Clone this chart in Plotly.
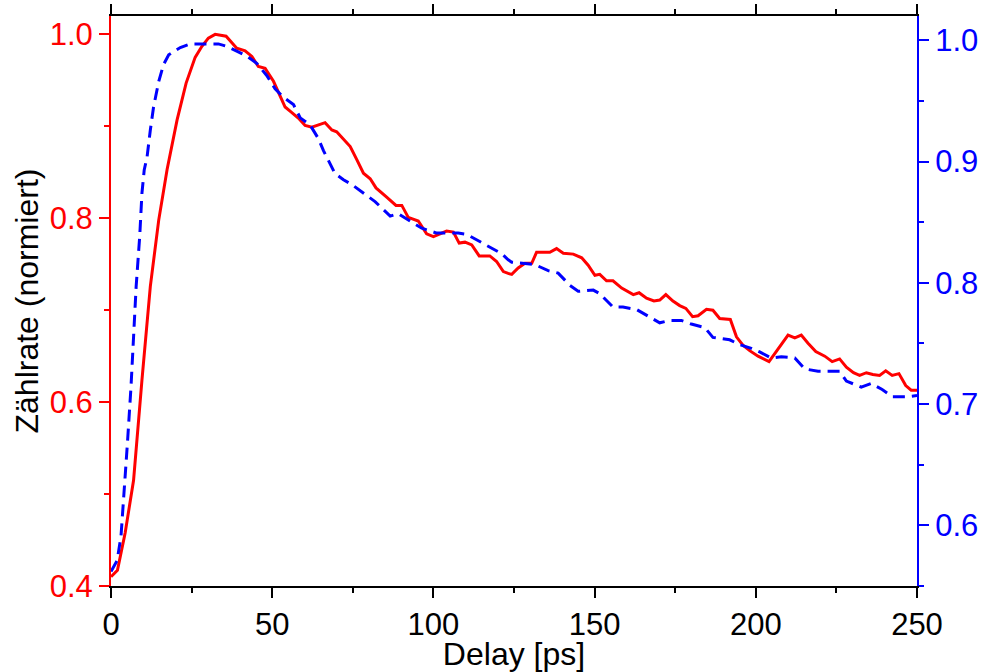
import plotly.graph_objects as go

# Red curve (left axis, solid)
red_x = [0, 2.0, 4.4, 7.0, 9.6, 12.2, 14.8, 17.4, 20.5, 23.3, 26.1, 28.2, 30.2, 32.3, 35.7, 37.5,
         39.0, 41.6, 43.7, 45.7, 47.8, 50.4, 52.5, 54.0, 56.1, 58.1, 60.2, 62.3, 66.4, 68.5, 70.0,
         72.1, 74.2, 76.2, 78.3, 80.4, 82.2, 85.5, 88.4, 90.2, 92.2, 95.3, 97.9, 100.0, 102.6,
         104.1, 106.2, 108.0, 109.8, 111.9, 114.2, 117.5, 119.6, 121.7, 123.2, 124.3, 126.3,
         128.4, 130.5, 132.0, 136.1, 138.2, 140.3, 143.4, 146.0, 148.0, 150.1, 151.6, 153.7,
         155.7, 158.4, 162.0, 163.8, 166.1, 168.4, 170.2, 172.1, 174.3, 176.4, 178.3, 180.4,
         182.1, 184.7, 186.7, 188.8, 192.1, 194.0, 196.0, 198.1, 200.7, 204.1, 207.4, 210.0,
         212.1, 214.1, 216.2, 218.6, 221.4, 223.7, 226.0, 228.1, 230.3, 232.2, 234.3, 236.3,
         238.4, 240.3, 242.3, 244.4, 246.5, 248.2, 250.0]
red_y = [0.410, 0.417, 0.458, 0.515, 0.624, 0.726, 0.798, 0.853, 0.907, 0.947, 0.975, 0.987, 0.996,
         1.000, 0.998, 0.991, 0.985, 0.982, 0.976, 0.965, 0.963, 0.949, 0.933, 0.921, 0.915, 0.909,
         0.901, 0.899, 0.904, 0.896, 0.894, 0.886, 0.878, 0.864, 0.849, 0.843, 0.833, 0.823, 0.814,
         0.814, 0.801, 0.797, 0.783, 0.780, 0.784, 0.786, 0.785, 0.773, 0.774, 0.771, 0.759, 0.759,
         0.753, 0.742, 0.740, 0.739, 0.746, 0.751, 0.751, 0.763, 0.763, 0.767, 0.762, 0.761, 0.757,
         0.749, 0.738, 0.739, 0.732, 0.732, 0.724, 0.717, 0.719, 0.713, 0.710, 0.711, 0.717, 0.710,
         0.705, 0.702, 0.693, 0.694, 0.701, 0.700, 0.691, 0.690, 0.671, 0.662, 0.656, 0.650, 0.644,
         0.661, 0.673, 0.670, 0.673, 0.664, 0.655, 0.650, 0.644, 0.647, 0.638, 0.632, 0.629, 0.632,
         0.630, 0.629, 0.634, 0.629, 0.631, 0.618, 0.613, 0.613]

# Blue curve (right axis, dashed)
blue_x = [0, 1.9, 3.1, 4.1, 5.1, 6.2, 7.0, 7.8, 8.9, 9.6, 10.3, 11.2, 12.2, 13.2, 14.8, 16.3, 17.9,
          21.5, 24.6, 28.7, 33.3, 35.9, 39.0, 42.1, 45.2, 48.3, 50.9, 53.5, 56.6, 58.7, 61.8, 64.3,
          65.9, 68.0, 69.5, 72.1, 74.7, 79.3, 81.9, 86.6, 89.1, 93.3, 96.4, 101.0, 104.1, 107.7,
          110.3, 114.4, 117.5, 121.2, 123.2, 124.3, 128.4, 131.5, 135.6, 138.7, 142.3, 144.9,
          149.6, 151.6, 155.7, 158.8, 163.0, 165.6, 170.2, 173.3, 176.9, 180.0, 184.2, 186.7,
          191.9, 195.0, 198.6, 201.2, 204.8, 207.9, 212.1, 215.2, 219.3, 222.4, 226.0, 228.1,
          232.7, 235.8, 239.2, 242.5, 246.7, 250.0]
blue_y = [0.562, 0.571, 0.591, 0.627, 0.668, 0.714, 0.756, 0.797, 0.838, 0.874, 0.893, 0.904, 0.926,
          0.945, 0.966, 0.980, 0.988, 0.994, 0.997, 0.997, 0.997, 0.995, 0.991, 0.987, 0.981, 0.971,
          0.960, 0.953, 0.947, 0.936, 0.930, 0.919, 0.909, 0.898, 0.890, 0.885, 0.881, 0.872, 0.867,
          0.855, 0.857, 0.850, 0.845, 0.841, 0.841, 0.841, 0.840, 0.834, 0.830, 0.824, 0.819, 0.817,
          0.816, 0.815, 0.810, 0.808, 0.798, 0.793, 0.794, 0.791, 0.780, 0.780, 0.778, 0.774, 0.767,
          0.769, 0.769, 0.766, 0.763, 0.755, 0.753, 0.749, 0.746, 0.743, 0.738, 0.739, 0.738, 0.729,
          0.727, 0.727, 0.727, 0.719, 0.714, 0.717, 0.712, 0.706, 0.706, 0.707]

x_ticks = [0, 50, 100, 150, 200, 250]
left_ticks = [0.4, 0.6, 0.8, 1.0]
right_ticks = [0.6, 0.7, 0.8, 0.9, 1.0]

FONT = "Liberation Sans, Arial, sans-serif"
RED = "#ff0000"
BLUE = "#0000ff"
TICK_SIZE = 31
TITLE_SIZE = 32

fig = go.Figure()
fig.add_trace(go.Scatter(x=red_x, y=red_y, mode="lines",
                         line=dict(color=RED, width=3), yaxis="y", showlegend=False))
fig.add_trace(go.Scatter(x=blue_x, y=blue_y, mode="lines",
                         line=dict(color=BLUE, width=3, dash="12px,7px"), yaxis="y2",
                         showlegend=False))

fig.update_layout(
    width=982, height=672,
    margin=dict(l=111, r=65, t=16, b=86),
    paper_bgcolor="white", plot_bgcolor="white",
    font=dict(family=FONT, size=TICK_SIZE, color="black"),
    xaxis=dict(
        range=[0, 250], tickvals=x_ticks, ticktext=[str(v) for v in x_ticks],
        showgrid=False, zeroline=False, automargin=False,
        showline=True, linecolor="black", linewidth=2, mirror="ticks",
        ticks="outside", ticklen=10, tickwidth=2, tickcolor="black",
        minor=dict(dtick=25, ticks="outside", ticklen=5, tickwidth=2, tickcolor="black", showgrid=False),
        tickfont=dict(family=FONT, size=TICK_SIZE, color="black"),
        title=dict(text="Delay [ps]", font=dict(family=FONT, size=TITLE_SIZE, color="black"), standoff=4),
    ),
    yaxis=dict(
        range=[0.4, 1.02], tickvals=left_ticks, ticktext=[f"{v:.1f}" for v in left_ticks],
        showgrid=False, zeroline=False, automargin=False,
        showline=True, linecolor=RED, linewidth=2,
        ticks="outside", ticklen=10, tickwidth=2, tickcolor=RED,
        minor=dict(dtick=0.1, tick0=0.4, ticks="outside", ticklen=5, tickwidth=2, tickcolor=RED, showgrid=False),
        tickfont=dict(family=FONT, size=TICK_SIZE, color=RED),
        title=dict(text="Zählrate (normiert)", font=dict(family=FONT, size=TITLE_SIZE, color="black"), standoff=1),
    ),
    yaxis2=dict(
        range=[0.55, 1.02], tickvals=right_ticks, ticktext=[f"{v:.1f}" for v in right_ticks],
        overlaying="y", side="right", automargin=False,
        showgrid=False, zeroline=False,
        showline=True, linecolor=BLUE, linewidth=2,
        ticks="outside", ticklen=10, tickwidth=2, tickcolor=BLUE,
        minor=dict(dtick=0.05, tick0=0.55, ticks="outside", ticklen=5, tickwidth=2, tickcolor=BLUE, showgrid=False),
        tickfont=dict(family=FONT, size=TICK_SIZE, color=BLUE),
    ),
)

fig.write_html(
    "out.html",
    config={"displayModeBar": False},
    post_script="document.body.style.margin='0';document.body.style.overflow='hidden';",
)
